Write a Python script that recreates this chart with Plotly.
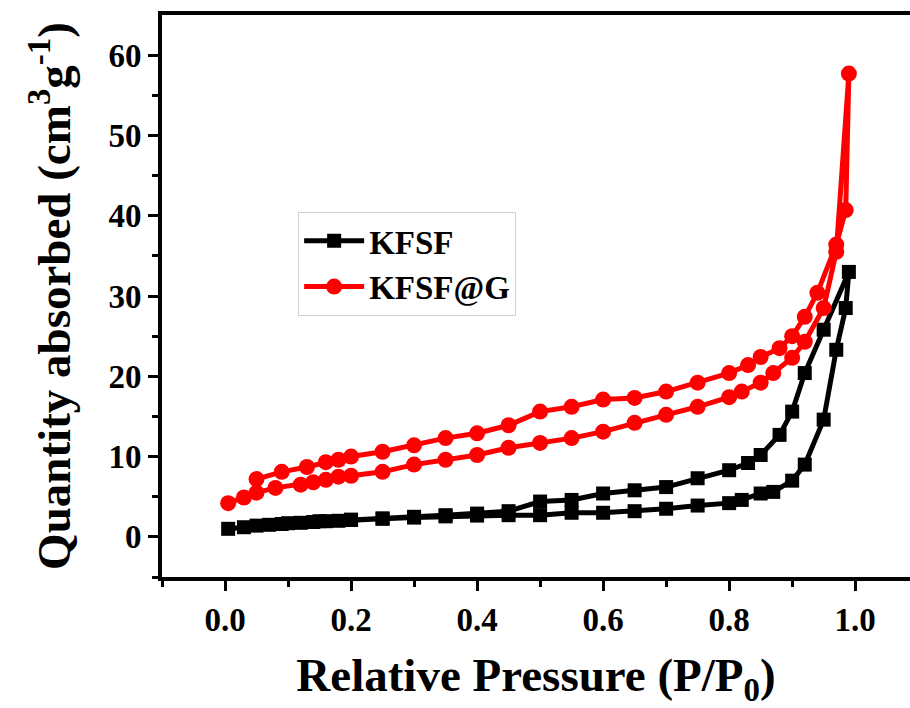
import plotly.graph_objects as go

# KFSF (black squares): adsorption then desorption branch
kfsf_x = [0.005, 0.03, 0.05, 0.07, 0.09, 0.12, 0.14, 0.16, 0.18, 0.2, 0.25, 0.3, 0.35, 0.4, 0.45,
          0.5, 0.55, 0.6, 0.65, 0.7, 0.75, 0.8, 0.82, 0.85, 0.87, 0.9, 0.92, 0.95, 0.97, 0.985, 0.99,
          0.95, 0.92, 0.9, 0.88, 0.85, 0.83, 0.8, 0.75, 0.7, 0.65, 0.6, 0.55, 0.5, 0.45,
          0.4, 0.35, 0.3, 0.25, 0.2, 0.15, 0.1]
kfsf_y = [1.0, 1.2, 1.4, 1.5, 1.6, 1.75, 1.85, 1.95, 2.0, 2.1, 2.25, 2.4, 2.55, 2.65, 2.7,
          2.7, 3.0, 3.0, 3.2, 3.5, 3.9, 4.2, 4.6, 5.4, 5.6, 7.0, 9.0, 14.6, 23.3, 28.5, 33.0,
          25.8, 20.4, 15.6, 12.7, 10.2, 9.2, 8.3, 7.3, 6.2, 5.8, 5.4, 4.6, 4.4, 3.2,
          2.9, 2.7, 2.5, 2.3, 2.15, 1.95, 1.7]

# KFSF@G (red circles): adsorption then desorption branch
kfsfg_x = [0.005, 0.03, 0.05, 0.08, 0.12, 0.14, 0.16, 0.18, 0.2, 0.25, 0.3, 0.35, 0.4, 0.45,
           0.5, 0.55, 0.6, 0.65, 0.7, 0.75, 0.8, 0.82, 0.85, 0.87, 0.9, 0.92, 0.95, 0.97, 0.99,
           0.985, 0.97, 0.94, 0.92, 0.9, 0.88, 0.85, 0.83, 0.8, 0.75, 0.7, 0.65, 0.6, 0.55,
           0.5, 0.45, 0.4, 0.35, 0.3, 0.25, 0.2, 0.18, 0.16, 0.13, 0.09, 0.05]
kfsfg_y = [4.2, 4.9, 5.5, 6.1, 6.5, 6.8, 7.1, 7.5, 7.6, 8.1, 9.0, 9.6, 10.2, 11.1,
           11.7, 12.3, 13.1, 14.2, 15.2, 16.2, 17.4, 18.1, 19.2, 20.4, 22.3, 24.3, 28.5, 35.5, 57.7,
           40.7, 36.4, 30.4, 27.4, 25.0, 23.5, 22.4, 21.4, 20.4, 19.2, 18.1, 17.3, 17.1, 16.2,
           15.6, 13.9, 12.9, 12.3, 11.4, 10.6, 10.0, 9.6, 9.3, 8.7, 8.1, 7.2]

x_ticks = [0.0, 0.2, 0.4, 0.6, 0.8, 1.0]
x_tick_labels = ["0.0", "0.2", "0.4", "0.6", "0.8", "1.0"]
y_ticks = [0, 10, 20, 30, 40, 50, 60]
y_tick_labels = ["0", "10", "20", "30", "40", "50", "60"]

FONT = "Liberation Serif, Times New Roman, serif"

fig = go.Figure()
fig.add_trace(go.Scatter(
    x=kfsf_x, y=kfsf_y, name="KFSF", mode="lines+markers",
    line=dict(color="black", width=5),
    marker=dict(symbol="square", size=14, color="black"),
))
fig.add_trace(go.Scatter(
    x=kfsfg_x, y=kfsfg_y, name="KFSF@G", mode="lines+markers",
    line=dict(color="#ff0000", width=5),
    marker=dict(symbol="circle", size=16, color="#ff0000"),
))

fig.update_layout(
    width=910, height=708,
    margin=dict(l=162, r=0, t=15, b=131),
    plot_bgcolor="white", paper_bgcolor="white",
    font=dict(family=FONT, color="black"),
    legend=dict(
        x=0.182, y=0.65, xanchor="left", yanchor="top",
        bgcolor="white", bordercolor="#d0d0d0", borderwidth=1,
        font=dict(family=FONT, size=33, color="black", weight="bold"),
        itemwidth=60, tracegroupgap=0,
    ),
    xaxis=dict(
        range=[-0.1, 1.087], tickvals=x_ticks, ticktext=x_tick_labels,
        showgrid=False, zeroline=False,
        showline=True, linecolor="black", linewidth=4, mirror=True,
        ticks="outside", ticklen=10, tickwidth=3, tickcolor="black",
        minor=dict(tickvals=[-0.1, 0.1, 0.3, 0.5, 0.7, 0.9], ticks="outside",
                   ticklen=6, tickwidth=3, tickcolor="black"),
        tickfont=dict(family=FONT, size=33, color="black", weight="bold"),
        title=dict(text="Relative Pressure (P/P<sub>0</sub>)", standoff=28,
                   font=dict(family=FONT, size=47, color="black", weight="bold")),
    ),
    yaxis=dict(
        range=[-5, 65], tickvals=y_ticks, ticktext=y_tick_labels,
        showgrid=False, zeroline=False,
        showline=True, linecolor="black", linewidth=4, mirror=False,
        ticks="outside", ticklen=10, tickwidth=3, tickcolor="black",
        minor=dict(tickvals=[-5, 5, 15, 25, 35, 45, 55], ticks="outside",
                   ticklen=6, tickwidth=3, tickcolor="black"),
        tickfont=dict(family=FONT, size=33, color="black", weight="bold"),
        title=dict(text="Quantity absorbed (cm<sup>3</sup>g<sup>-1</sup>)", standoff=24,
                   font=dict(family=FONT, size=47, color="black", weight="bold")),
    ),
)

fig.write_html("out.html")
